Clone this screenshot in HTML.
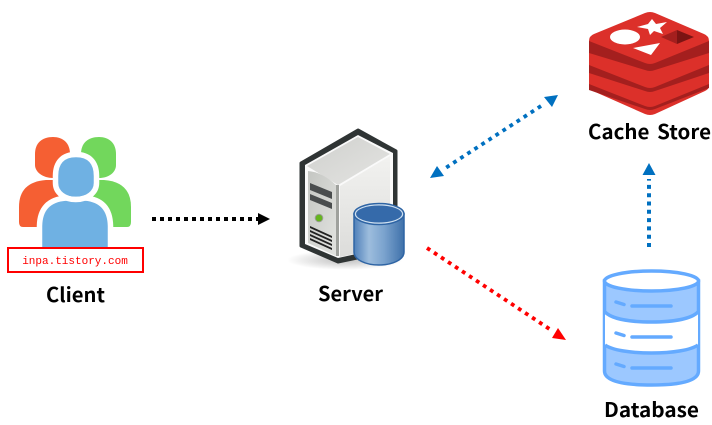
<!DOCTYPE html>
<html><head><meta charset="utf-8">
<style>
html,body{margin:0;padding:0;background:#fff}
body{width:712px;height:425px;overflow:hidden}
svg{display:block}
.l{font-family:"Noto Sans CJK KR","Liberation Sans",sans-serif;font-weight:700;font-size:20px;fill:#000;text-anchor:middle}
</style></head><body>
<svg width="712" height="425" viewBox="0 0 712 425" xmlns="http://www.w3.org/2000/svg">
<defs>
<linearGradient id="sf" x1="0" y1="0" x2="0" y2="1"><stop offset="0" stop-color="#f2f2f0"/><stop offset="1" stop-color="#dcdcda"/></linearGradient>
<linearGradient id="ff" x1="0" y1="0" x2="1" y2="1"><stop offset="0" stop-color="#c4c6c2"/><stop offset="1" stop-color="#e2e3e0"/></linearGradient>
<linearGradient id="tf" x1="0" y1="0" x2="1" y2="1"><stop offset="0" stop-color="#cfd0cd"/><stop offset="1" stop-color="#e4e4e2"/></linearGradient>
<linearGradient id="cy" x1="0" y1="0" x2="1" y2="0"><stop offset="0" stop-color="#4f80b9"/><stop offset=".3" stop-color="#9dbddd"/><stop offset=".6" stop-color="#7ba3ce"/><stop offset="1" stop-color="#3f71aa"/></linearGradient>
<radialGradient id="shd"><stop offset="0" stop-color="#000" stop-opacity=".25"/><stop offset="1" stop-color="#000" stop-opacity="0"/></radialGradient>
</defs>

<!-- Client -->
<g fill="#f55f33">
<path d="M35 154C35 143 42 137 53 137C63 137 70 143 70 154V165C70 173 62 178 53 178C43 178 35 172 35 165Z"/>
<path d="M19 222V207Q19 182 46 180H56L80 215V227H23Q19 227 19 222Z"/>
</g>
<g fill="#72d75c">
<path d="M81 154C81 143 88 137 99 137C109 137 116 143 116 154V165C116 173 108 178 99 178C89 178 81 172 81 165Z"/>
<path d="M131 222V207Q131 182 104 180H94L72 215V227H127Q131 227 131 222Z"/>
</g>
<g fill="#6fb1e3" stroke="#fff" stroke-width="5.500">
<path d="M55.500 176C55.500 162 63 154.500 76 154.500C89 154.500 96.500 162 96.500 176V183C96.500 193 87 199.500 76 199.500C65 199.500 55.500 193 55.500 183Z"/>
<path d="M39.500 252V226Q40 200 66 198Q76 201 85 198Q110 200 110.500 226V252Z"/>
</g>
<rect x="8" y="248" width="135" height="24" fill="#fff" stroke="#f00" stroke-width="2"/>
<text x="75" y="264" text-anchor="middle" font-family="'Liberation Mono',monospace" font-size="11" font-weight="400" fill="#f00">inpa.tistory.com</text>
<text class="l" x="75.500" y="302" textLength="59" lengthAdjust="spacingAndGlyphs">Client</text>

<!-- Server -->
<ellipse cx="345" cy="260" rx="58" ry="10" fill="url(#shd)"/>
<path d="M358 130L301 163V246L338 262L396 250V151Z" fill="#2f3434" stroke="#2f3434" stroke-width="3" stroke-linejoin="round"/>
<path d="M358 135L305 165V244L338 258L393 246V153Z" fill="#fafafa"/>
<path d="M358 137L307 166L338 185L390 154Z" fill="url(#tf)"/>
<path d="M340 186L390 156V246L340 257Z" fill="url(#sf)"/>
<path d="M308 171Q322 172 336 185V256L308 243Z" fill="url(#ff)"/>
<path d="M336 185h3v71h-3z" fill="#9fa19d"/>
<path d="M310 183L332 192V199L310 190ZM310 194L332 203V209L310 200Z" fill="#4a4d4e"/>
<path d="M310 230L332 240V242L310 232ZM310 234L332 244V246L310 236ZM310 238L332 248V250L310 240ZM310 226L332 236V238L310 228Z" fill="#222"/>
<circle cx="319" cy="218" r="3.800" fill="#65b51e" stroke="#9a9e96" stroke-width="1"/>
<path d="M354 214V252C354 260 366 265 379 265C392 265 404 260 404 252V214Z" fill="url(#cy)" stroke="#2e64a4" stroke-width="1.500"/>
<ellipse cx="379" cy="214" rx="25" ry="10.500" fill="#cfe0f0" stroke="#2e64a4" stroke-width="1.500"/>
<ellipse cx="379" cy="214" rx="23" ry="8.500" fill="#356aaa"/>
<text class="l" x="350.500" y="301" textLength="65" lengthAdjust="spacingAndGlyphs">Server</text>

<!-- Redis -->
<path d="M589 41Q589 36 594 34L645 13Q650 11 655 13L704 34Q709 36 709 41V86Q709 89 705 91L655 114Q650 116 645 114L593 91Q589 89 589 86Z" fill="#dc302a"/>
<path d="M589 41L645 63Q650 65 655 63L709 41V53L655 70Q650 72 645 70L589 53Z" fill="#a41f1e"/>
<path d="M589 65L645 87Q650 89 655 87L709 65V73L655 91Q650 93 645 91L589 73Z" fill="#a41f1e"/>
<path d="M589 84L645 106Q650 108 655 106L709 84V88L655 109Q650 111 645 109L589 90Z" fill="#a41f1e"/>
<ellipse cx="625" cy="37" rx="15" ry="7.500" fill="#fff"/>
<path d="M652 19L656 24L667 22L660 28L663 34L654 31L650 35L648 29L637 27L648 24Z" fill="#fff"/>
<path d="M633 48L660 43L651 55Z" fill="#fff"/>
<path d="M661 37L677 30L677 44Z" fill="#a41f1e"/>
<path d="M677 30L694 37L677 44Z" fill="#7c1413"/>
<text class="l" x="649.500" y="139" word-spacing="3" textLength="123" lengthAdjust="spacingAndGlyphs">Cache Store</text>

<!-- Database -->
<path d="M604.500 281V371Q604.500 385 651.500 385Q698.500 385 698.500 371V281Z" fill="#9cc8ff" stroke="#64aaff" stroke-width="3.500"/>
<path d="M605 312C612 319 630 322 651.500 322S691 319 698 312V345C691 350 673 353 651.500 353S612 350 605 345Z" fill="#fff"/>
<path d="M605 312C612 319 630 322 651.500 322S691 319 698 312M605 345C612 350 630 353 651.500 353S691 350 698 345" fill="none" stroke="#64aaff" stroke-width="3.500"/>
<ellipse cx="651.500" cy="281" rx="47" ry="10" fill="#fff" stroke="#64aaff" stroke-width="3.500"/>
<path d="M616 302L624 304.500M632 306H671M616 333L624 335.500M632 337H671M616 364L624 366.500M632 368H671" fill="none" stroke="#64aaff" stroke-width="3.500" stroke-linecap="round"/>
<text class="l" x="651.500" y="417" textLength="95" lengthAdjust="spacingAndGlyphs">Database</text>

<!-- Arrows -->
<path d="M152 219H258" stroke="#000" stroke-width="4" stroke-dasharray="4 4" fill="none"/>
<path d="M258 213L270 219L258 225Z" fill="#000"/>

<path d="M541 106L444 169" stroke="#0070c0" stroke-width="3.800" stroke-dasharray="3.800 4.600" fill="none"/>
<path d="M558 95L544 97L552 107Z" fill="#0070c0"/>
<path d="M430 178L437 166L444 176Z" fill="#0070c0"/>

<path d="M427 248L551 330" stroke="#f00" stroke-width="3.800" stroke-dasharray="3.800 4.600" fill="none"/>
<path d="M566 340L558 328L552 338Z" fill="#f00"/>

<path d="M649 247V179" stroke="#0070c0" stroke-width="4" stroke-dasharray="4 4.300" fill="none"/>
<path d="M649 163L655.500 175H642.500Z" fill="#0070c0"/>
</svg>
</body></html>
